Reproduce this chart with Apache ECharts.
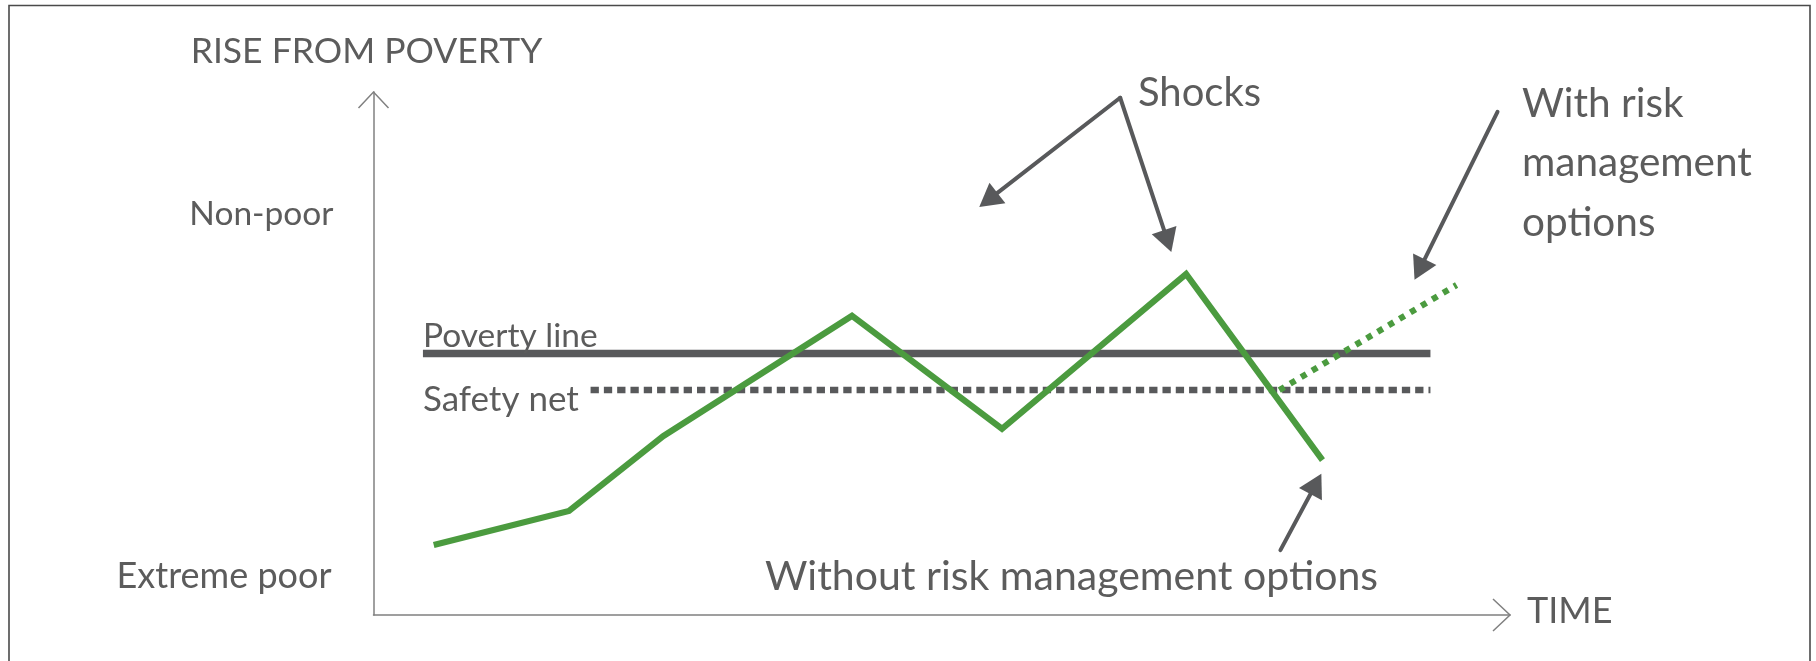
<!DOCTYPE html>
<html><head><meta charset="utf-8">
<script src="https://cdn.jsdelivr.net/npm/echarts@6/dist/echarts.min.js"></script>
<style>html,body{margin:0;padding:0;background:#fff}#c{width:1816px;height:661px}</style>
</head><body><div id="c"></div>
<script>
// ---- data (arbitrary 0-100 units on both axes) ----
const timePoints = [5.3, 17.2, 25.5, 42.1, 55.3, 71.5, 83.5];
const levelWithout = [13.4, 19.9, 34.2, 57.2, 35.6, 65.2, 29.6];
const withRiskTime = [79.7, 95.3];
const withRiskLevel = [43.0, 63.1];
const povertyLineLevel = 50;
const povertyLineSpan = [4.35, 93.0];
const safetyNetLevel = 43.0;
const safetyNetSpan = [19.1, 93.0];
const levelLabels = ['Non-poor', 'Extreme poor'];
const levelLabelValues = [76.7, 7.3];
const axisNames = ['TIME', 'RISE FROM POVERTY'];
const lineLabels = ['Poverty line', 'Safety net'];
const shockArrowFrom = [65.7, 98.9];
const shockArrowTo = [[53.3, 78.0], [70.2, 69.4]];
const withArrow = [[98.9, 96.2], [91.6, 64.1]];
const withoutArrow = [[79.8, 12.4], [83.4, 27.0]];
const annotationTexts = ['Shocks', 'With risk\nmanagement\noptions', 'Without risk management options'];

const FONT = 'Lato, "Open Sans", sans-serif';
const TEXT = '#5c5c5c';
const DARK = '#58595b';
const GREEN = '#4b9b3f';
const AXIS = '#808080';

const chart = echarts.init(document.getElementById('c'), null, {renderer: 'canvas'});
const zip = (a, b) => a.map((v, i) => [v, b[i]]);

chart.setOption({
  animation: false,
  backgroundColor: '#fff',
  grid: {left: 373.5, right: 306, top: 92, bottom: 46},
  xAxis: {type: 'value', min: 0, max: 100, splitLine: {show: false}, axisTick: {show: false}, axisLabel: {show: false},
    axisLine: {show: true, lineStyle: {color: AXIS, width: 1.5}}},
  yAxis: {type: 'value', min: 0, max: 100, splitLine: {show: false}, axisTick: {show: false}, axisLabel: {show: false},
    axisLine: {show: true, lineStyle: {color: AXIS, width: 1.5}}},
  series: [
    {type: 'line', silent: true, symbol: 'none', z: 2,
      data: povertyLineSpan.map(x => [x, povertyLineLevel]),
      lineStyle: {color: DARK, width: 7.5, cap: 'butt'}},
    {type: 'line', silent: true, symbol: 'none', z: 2,
      data: safetyNetSpan.map(x => [x, safetyNetLevel]),
      lineStyle: {color: DARK, width: 6.5, type: [8.3, 5], cap: 'butt'}},
    {type: 'line', silent: true, symbol: 'none', z: 3,
      data: zip(timePoints, levelWithout),
      lineStyle: {color: GREEN, width: 6.2, join: 'miter', cap: 'butt'}},
    {type: 'line', silent: true, symbol: 'none', z: 3,
      data: zip(withRiskTime, withRiskLevel),
      lineStyle: {color: GREEN, width: 6.2, type: [6, 6.7], cap: 'butt'}}
  ]
});

const px = p => chart.convertToPixel({gridIndex: 0}, p);

function arrow(from, to, list) {
  const a = px(from), b = px(to);
  const dx = b[0] - a[0], dy = b[1] - a[1];
  const len = Math.hypot(dx, dy), ux = dx / len, uy = dy / len;
  const L = 23, W = 13;
  const bx = b[0] - ux * L, by = b[1] - uy * L;
  list.push({type: 'line', z: 10, shape: {x1: a[0], y1: a[1], x2: bx + ux * 2, y2: by + uy * 2},
    style: {stroke: DARK, lineWidth: 4, lineCap: 'round'}});
  list.push({type: 'polygon', z: 10, shape: {points: [[b[0], b[1]], [bx - uy * W, by + ux * W], [bx + uy * W, by - ux * W]]},
    style: {fill: DARK}});
}

function text(str, x, y, size, align, extra) {
  return Object.assign({type: 'text', z: 10, x: x, y: y, style: {text: str, fill: TEXT, font: size + 'px ' + FONT,
    align: align || 'left', verticalAlign: 'middle'}}, extra || {});
}

const g = [];
// frame
g.push({type: 'rect', z: 0, shape: {x: 9, y: 5.5, width: 1801, height: 720}, style: {fill: 'none', stroke: '#4a4a4a', lineWidth: 1.6}});
// axis chevrons
const o = px([0, 0]), yTop = px([0, 100]), xEnd = px([100, 0]);
g.push({type: 'polyline', z: 5, shape: {points: [[yTop[0] - 15, yTop[1] + 16], [yTop[0], yTop[1]], [yTop[0] + 15, yTop[1] + 16]]},
  style: {stroke: AXIS, lineWidth: 1.5, fill: null}});
g.push({type: 'polyline', z: 5, shape: {points: [[xEnd[0] - 17, xEnd[1] - 16], [xEnd[0], xEnd[1]], [xEnd[0] - 17, xEnd[1] + 16]]},
  style: {stroke: AXIS, lineWidth: 1.5, fill: null}});
// axis names
g.push(text(axisNames[1], yTop[0] - 7, 52, 35.5, 'center'));
g.push(text(axisNames[0], xEnd[0] + 17, xEnd[1] - 4, 36, 'left'));
// level labels
g.push(text(levelLabels[0], o[0] - 40, px([0, levelLabelValues[0]])[1], 33.5, 'right'));
g.push(text(levelLabels[1], o[0] - 42, px([0, levelLabelValues[1]])[1], 36, 'right'));
// line labels
const pl = px([povertyLineSpan[0], povertyLineLevel]);
g.push(text(lineLabels[0], pl[0], pl[1] - 17, 33.5, 'left'));
const sn = px([povertyLineSpan[0], safetyNetLevel]);
g.push(text(lineLabels[1], sn[0], sn[1] + 10, 35, 'left'));
// arrows
shockArrowTo.forEach(t => arrow(shockArrowFrom, t, g));
arrow(withArrow[0], withArrow[1], g);
arrow(withoutArrow[0], withoutArrow[1], g);
// annotation texts
g.push(text(annotationTexts[0], 1138, 93, 40, 'left'));
g.push({type: 'text', z: 10, x: 1522, y: 74, style: {text: annotationTexts[1], fill: TEXT, font: '40.5px ' + FONT,
  lineHeight: 59.5, align: 'left', verticalAlign: 'top'}});
g.push(text(annotationTexts[2], 765, 577, 41, 'left'));

chart.setOption({graphic: {elements: g}});
</script>
</body></html>
